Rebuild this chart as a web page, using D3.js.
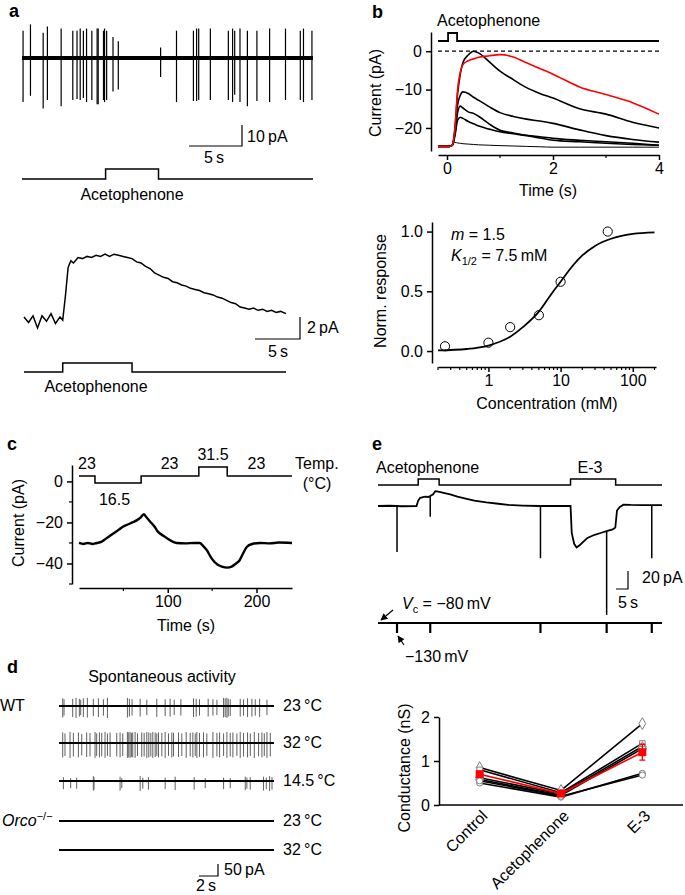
<!DOCTYPE html>
<html>
<head>
<meta charset="utf-8">
<script src="https://cdn.jsdelivr.net/npm/d3@7"></script>
<style>
  body { margin: 0; background: #fff; }
</style>
</head>
<body>
<svg id="fig" width="685" height="895"></svg>
<script>
// --------------------------------------------------------------------------------------
// data
// --------------------------------------------------------------------------------------
// panel a (top): spontaneous spikes [time (s), up (pA), down (pA)]
var aSpikes = [[0.1,13,-21],[0.8,16,-18],[2.0,12,-24],[2.4,15,-20],[3.7,14,-23],[4.8,13,-20],
  [5.2,13,-19.5],[5.5,14,-20],[5.8,13,-19],[6.1,14,-21],[6.6,13,-20],[7.1,14,-22],[7.2,14,-22],
  [7.7,13,-20],[7.8,14,-21],[8.0,13,-20],[8.6,10,-16],[9.1,8,-15],[13.1,5,-9],[14.6,13,-21],
  [16.2,13,-20.5],[16.5,14,-20.5],[16.7,14,-20],[17.8,14,-20],[19.5,13,-20],[19.9,14,-21],
  [20.1,13,-17.5],[20.6,14,-21],[21.3,13,-23],[22.2,13,-20.5],[23.4,14,-21],[24.9,14,-20],
  [26.3,13,-20],[26.6,14,-21],[27.4,13,-20]];
var aDuration = 27.5;
var aStim = [[0,0],[7.9,1],[12.9,0],[27.5,0]];

// panel a (bottom): slow current [time (s), pA]
var aSlow = [[0,0.1],[0.5,-0.4],[1,0.2],[1.5,-0.9],[2,0.2],[2.5,-0.3],[3,0.4],[3.5,-0.5],[4,0.1],
  [4.3,-0.2],[4.6,2.0],[4.9,4.6],[5.2,5.2],[5.5,5.0],[6,5.5],[6.5,5.4],[7,5.6],[7.5,5.5],[8,5.7],
  [8.5,5.6],[9,5.8],[9.5,5.6],[10,5.8],[10.5,5.7],[11,5.6],[11.5,5.5],[12,5.4],[12.5,5.1],[13,5.0],
  [13.5,4.7],[14,4.5],[14.5,4.1],[15,3.9],[15.5,3.7],[16,3.6],[16.5,3.3],[17,3.2],[17.5,3.0],
  [18,2.9],[18.5,2.7],[19,2.6],[19.5,2.5],[20,2.3],[20.5,2.2],[21,2.1],[21.5,1.9],[22,1.8],
  [22.5,1.6],[23,1.4],[23.5,1.3],[24,1.0],[24.5,0.9],[25,0.8],[25.5,0.9],[26,0.7],[26.5,0.8],
  [27,0.6],[27.5,0.7],[28,0.5],[28.5,0.6],[29.1,0.4]];
var aSlowStim = [[0,0],[4.3,1],[12,0],[29.1,0]];

// panel b (top): dose responses
var bTime   = [-0.17, 0.05, 0.1, 0.15, 0.2, 0.25, 0.3, 0.4, 0.5, 0.6, 0.8, 1.0, 1.25, 1.5, 1.75, 2.0, 2.5, 3.0, 3.5, 4.0];
var bRed    = [-24.8,-24.8,-24.5,-20,-10,-5.5,-3.5,-2.5,-2,-1.6,-1.2,-0.9,-1.5,-3,-4.5,-6,-9.3,-11.3,-13.4,-16.4];
var bBlack1 = [-24.8,-24.8,-24.5,-20,-11,-6,-3,-1,0,-0.5,-2.8,-5.2,-7.4,-9.5,-11,-12.2,-15,-16.4,-18.5,-20];
var bBlack2 = [-24.8,-24.8,-24.5,-21,-14,-11.5,-10.6,-11,-12,-12.8,-14.5,-16,-17,-17.7,-18.2,-18.8,-20.5,-22,-23,-23.7];
var bBlack3 = [-24.8,-24.8,-24.5,-21.5,-16,-14.3,-14.8,-15.8,-16.2,-17,-19,-20.6,-21.3,-21.9,-22.3,-22.7,-23.2,-23.6,-24,-24.5];
var bBlack4 = [-24.8,-24.8,-24.5,-22,-18,-17.2,-17.5,-18.3,-18.9,-19.5,-20.3,-21,-21.5,-22,-22.6,-23.2,-23.6,-24,-24.3,-24.5];
var bBlack5 = [-24.8,-24.8,-24.2,-23.8,-23.9,-24,-24.1,-24.2,-24.3,-24.4,-24.5,-24.6,-24.7,-24.8,-24.9,-25,-25,-25,-25,-25];
var bStim = [[-0.17,0],[0.02,1],[0.19,0],[4,0]];

// panel b (bottom): concentration response
var bConc = [0.25, 1, 2, 5, 10, 45];
var bResp = [0.04, 0.07, 0.2, 0.3, 0.58, 1.0];
var bFitConc = [0.2, 0.5, 1, 2, 3, 5, 7.5, 10, 15, 20, 30, 50, 100, 200];
var bFitResp = [0.005, 0.017, 0.046, 0.12, 0.2, 0.33, 0.48, 0.58, 0.72, 0.8, 0.88, 0.94, 0.98, 0.993];

// panel c: temperature steps and current
var cTemp = [[0,23],[18,16.5],[70,23],[135,31.5],[167,23],[240,23]];
var cTempLabels = [[9,"23","above"],[40,"16.5","below"],[102,"23","above"],[151,"31.5","above"],[200,"23","above"]];
var cCurrent = [[0,-30],[5,-30.5],[10,-30],[15,-30.5],[20,-30],[25,-29.5],[30,-28],[35,-26.5],[40,-25],
  [45,-23.5],[50,-22],[55,-21],[60,-20],[65,-19],[69,-17.8],[73,-16],[76,-17.5],[80,-19.5],[85,-22],
  [88,-24],[95,-26.5],[100,-28],[106,-29.5],[110,-30],[120,-30.2],[130,-30],[136,-30],[140,-31.5],
  [144,-33.5],[148,-36.5],[151,-38.4],[156,-40.5],[161,-41.5],[167,-42],[172,-41.5],[177,-40],
  [181,-38.4],[185,-35],[189,-32],[195,-30.5],[204,-30],[215,-30.2],[225,-29.8],[240,-30]];

// panel d: spontaneous activity rows [time (s), up (pA), down (pA)]
var dWT23 = [[0.39,32,-48],[0.53,28,-40],[1.44,30,-46],[1.79,34,-50],[2.14,30,-44],[2.28,26,-38],
  [2.56,32,-46],[2.98,34,-48],[3.61,30,-42],[4.14,32,-46],[4.67,28,-40],[5.09,34,-50],[7.19,34,-48],
  [7.40,30,-44],[7.68,28,-40],[8.53,30,-44],[9.23,26,-38],[10.28,30,-46],[11.16,28,-42],[11.68,30,-44],
  [12.11,26,-38],[12.81,28,-40],[14.14,32,-46],[14.42,30,-44],[14.77,28,-40],[15.68,30,-44],
  [16.18,28,-40],[16.60,26,-38],[17.30,34,-48],[17.47,32,-46],[17.65,34,-50],[17.79,30,-44],
  [18.00,28,-42],[19.05,30,-44],[19.40,28,-40],[19.82,32,-46],[20.28,30,-44],[20.63,28,-40],
  [21.09,30,-46],[21.86,26,-38]];
var dWT32 = [[0.39,44,-60],[0.63,40,-54],[1.16,46,-62],[1.51,42,-56],[2.04,44,-60],[2.39,38,-52],
  [2.91,44,-58],[3.26,42,-56],[3.79,46,-62],[3.96,40,-54],[4.25,44,-60],[4.49,42,-56],[4.84,46,-62],
  [5.09,40,-54],[5.37,44,-58],[6.07,42,-56],[6.42,44,-60],[6.70,40,-54],[7.19,46,-62],[7.33,44,-60],
  [7.47,46,-62],[7.61,42,-58],[7.75,44,-60],[8.00,46,-62],[8.25,40,-54],[8.70,44,-58],[8.95,42,-56],
  [9.23,46,-62],[9.44,44,-60],[9.65,42,-56],[9.86,46,-62],[10.11,44,-58],[10.28,40,-54],[10.46,44,-60],
  [10.81,42,-56],[11.16,46,-62],[11.51,40,-54],[11.86,44,-60],[12.04,42,-56],[12.56,44,-58],
  [12.91,40,-54],[13.37,46,-62],[13.79,42,-56],[14.07,44,-60],[14.32,40,-54],[14.49,46,-62],
  [14.77,42,-58],[15.19,44,-60],[15.54,40,-54],[16.18,46,-62],[16.60,42,-56],[16.88,44,-60],
  [17.30,40,-54],[17.65,46,-62],[18.00,42,-56],[18.28,44,-60],[18.70,40,-54],[19.05,46,-62],
  [19.40,42,-56],[19.82,44,-60],[20.11,40,-54],[20.53,46,-62],[20.98,42,-56],[21.33,44,-60],
  [21.58,40,-54],[21.86,46,-62],[22.21,42,-56]];
var dWT14 = [[0.46,16,-34],[1.23,12,-30],[1.86,14,-32],[3.61,20,-40],[3.68,16,-36],[6.42,18,-40],
  [6.60,12,-30],[8.53,20,-42],[8.81,14,-32],[9.40,16,-36],[11.16,14,-34],[12.21,18,-38],[14.21,16,-36],
  [15.37,12,-30],[17.30,14,-34],[18.00,12,-30],[19.58,18,-38],[19.75,14,-32],[20.10,16,-36],
  [21.50,18,-40],[21.79,14,-34],[22.14,20,-42],[22.39,16,-36]];
var dOrco23 = [];
var dOrco32 = [];
var dTemps = ["23\u2009°C", "32\u2009°C", "14.5\u2009°C", "23\u2009°C", "32\u2009°C"];
var dDuration = 22.6;

// panel e: current trace [time (s), pA], spikes [time, from, to], stimulus
var eTrace = [[0,0],[5,0.3],[10,-0.3],[16,0],[16.7,6],[17.5,9],[19.6,10.5],[21,10],[22.9,13],
  [23.8,16.5],[25,16],[30,13],[33,10.5],[36,8.5],[40,6],[45,4],[50,2.5],[54,1.2],[60,0.5],[67,0],
  [80,0],[80.5,-30],[81.5,-42],[82.5,-46],[84,-43],[87,-35.5],[90,-32],[92.5,-30],[95,-28],
  [97.5,-26],[98.6,-24],[99.3,-5],[100.5,-1],[102,1.5],[105,1.2],[110,1],[118,1]];
var eSpikes = [[7.9,0,-51],[21.7,10,-12],[67.5,0,-58],[95,-28,-121],[113.75,0,-58]];
var eStim = [[0,0],[16.7,1],[25.4,0],[80,1],[98.75,0],[118,0]];
var eDuration = 118;

// panel e (bottom): conductance
var gCats = ["Control", "Acetophenone", "E-3"];
var gCells = [[0.85, 0.33, 1.85], [0.80, 0.28, 1.40], [0.62, 0.25, 1.33],
              [0.58, 0.22, 1.28], [0.50, 0.18, 0.72], [0.55, 0.20, 0.68]];
var gMean = [0.70, 0.26, 1.20];
var gErr  = [0.06, 0.03, 0.18];

// --------------------------------------------------------------------------------------
var FONT = '"Liberation Sans", Arial, Helvetica, sans-serif';
var svg = d3.select("#fig").attr("font-family", FONT).attr("font-size", 16);
svg.append("rect").attr("width", 685).attr("height", 895).attr("fill", "#fff");

function minus(d) { return d < 0 ? "\u2212" + Math.abs(d) : String(d); }

function text(x, y, s, anchor, size, bold) {
  return svg.append("text").attr("x", x).attr("y", y)
    .attr("text-anchor", anchor || "start")
    .attr("font-size", size || 16)
    .attr("font-weight", bold ? "bold" : null)
    .text(s);
}

function vtext(x, y, s) {
  return svg.append("text").attr("transform", "translate(" + x + "," + y + ") rotate(-90)")
    .attr("text-anchor", "middle").text(s);
}

function path(d, w, col) {
  return svg.append("path").attr("d", d).attr("fill", "none")
    .attr("stroke", col || "#000").attr("stroke-width", w || 1.5);
}

function scaleBar(cx, cy, dx, dy) {
  path("M" + (cx - dx) + "," + cy + "H" + cx + "V" + (cy - dy), 1.2);
}

function styleAxis(g) {
  g.attr("font-family", FONT).attr("font-size", 16);
  g.select(".domain").attr("stroke-width", 1.5);
  g.selectAll(".tick line").attr("stroke-width", 1.5);
  g.selectAll(".tick text").attr("fill", "#000");
  return g;
}

function minorTicks(g, vals, scale, horizontal) {
  vals.forEach(function(v) {
    var p = scale(v);
    g.append("line")
      .attr(horizontal ? "x1" : "y1", p).attr(horizontal ? "x2" : "y2", p)
      .attr(horizontal ? "y1" : "x1", 0).attr(horizontal ? "y2" : "x2", horizontal ? 3 : -3)
      .attr("stroke", "#000").attr("stroke-width", 1.2);
  });
}

// ======================================================================================
// panel a
// ======================================================================================
text(9, 17, "a", "start", 18, true);

var xA1 = d3.scaleLinear().domain([0, aDuration]).range([22, 313]);
var yA1 = d3.scaleLinear().domain([-10, 10]).range([79, 37]);
var yA1s = d3.scaleLinear().domain([0, 1]).range([179, 169]);

svg.append("g").selectAll("line").data(aSpikes).enter().append("line")
   .attr("x1", function(d) { return xA1(d[0]); })
   .attr("x2", function(d) { return xA1(d[0]); })
   .attr("y1", function(d) { return yA1(d[1]); })
   .attr("y2", function(d) { return yA1(d[2]); })
   .attr("stroke", "#000").attr("stroke-width", 1.2);
path("M" + xA1(0) + "," + yA1(0) + "H" + xA1(aDuration), 4);

scaleBar(242, 146, xA1(5) - xA1(0), yA1(0) - yA1(10));
text(247, 142, "10\u2009pA");
text(214, 163, "5\u2009s", "middle");

var stepA1 = d3.line().curve(d3.curveStepAfter)
  .x(function(d) { return xA1(d[0]); }).y(function(d) { return yA1s(d[1]); });
path(stepA1(aStim), 1.5);
text(xA1(10.4), 200, "Acetophenone", "middle");

// bottom trace
var xA2 = d3.scaleLinear().domain([0, 29.1]).range([24, 286]);
var yA2 = d3.scaleLinear().domain([0, 2]).range([318, 296]);
var yA2s = d3.scaleLinear().domain([0, 1]).range([372, 363]);
path(d3.line().x(function(d) { return xA2(d[0]); }).y(function(d) { return yA2(d[1]); })(aSlow), 1.5);
scaleBar(300, 339, xA2(5) - xA2(0), yA2(0) - yA2(2));
text(307, 333, "2\u2009pA");
text(278, 357, "5\u2009s", "middle");
path(d3.line().curve(d3.curveStepAfter)
  .x(function(d) { return xA2(d[0]); }).y(function(d) { return yA2s(d[1]); })(aSlowStim), 1.5);
text(96, 392, "Acetophenone", "middle");

// ======================================================================================
// panel b (top)
// ======================================================================================
text(372, 18, "b", "start", 18, true);

var xB = d3.scaleLinear().domain([-0.17, 4]).range([438, 659]);
var yB = d3.scaleLinear().domain([-26, 5]).range([151, 32]);
var yBs = d3.scaleLinear().domain([0, 1]).range([41, 33]);

var gbx = svg.append("g").attr("transform", "translate(0,155)")
  .call(d3.axisBottom(xB).tickValues([0, 2, 4]).tickFormat(d3.format("d"))
    .tickSize(5).tickSizeOuter(0).tickPadding(3));
styleAxis(gbx);
minorTicks(gbx, [1, 3], xB, true);
var gby = svg.append("g").attr("transform", "translate(431,0)")
  .call(d3.axisLeft(yB).tickValues([0, -10, -20]).tickFormat(minus).tickSize(5).tickSizeOuter(0).tickPadding(4));
styleAxis(gby);

path("M438," + yB(0) + "H659", 1.2).attr("stroke-dasharray", "4,3");
path(d3.line().curve(d3.curveStepAfter)
  .x(function(d) { return xB(d[0]); }).y(function(d) { return yBs(d[1]); })(bStim), 1.8);
text(437, 26, "Acetophenone");

var lineB = d3.line().curve(d3.curveMonotoneX)
  .x(function(d, i) { return xB(bTime[i]); }).y(function(d) { return yB(d); });
[bBlack5, bBlack4, bBlack3, bBlack2, bBlack1].forEach(function(s, i) {
  path(lineB(s), i === 0 ? 1 : 1.6);
});
path(lineB(bRed), 1.6, "#f00");

vtext(381, 93, "Current (pA)");
text(548, 196, "Time (s)", "middle");

// ======================================================================================
// panel b (bottom)
// ======================================================================================
var xC = d3.scaleLog().domain([0.2, 210]).range([438, 656]);
var yR = d3.scaleLinear().domain([-0.1, 1.08]).range([363, 222]);

var gcx = svg.append("g").attr("transform", "translate(0,367)")
  .call(d3.axisBottom(xC).tickValues([1, 10, 100]).tickFormat(d3.format("d"))
    .tickSize(5).tickSizeOuter(0).tickPadding(3));
styleAxis(gcx);
minorTicks(gcx, [0.2,0.3,0.4,0.5,0.6,0.7,0.8,0.9,2,3,4,5,6,7,8,9,20,30,40,50,60,70,80,90,200], xC, true);
var gcy = svg.append("g").attr("transform", "translate(432,0)")
  .call(d3.axisLeft(yR).tickValues([0, 0.5, 1]).tickFormat(d3.format(".1f"))
    .tickSize(5).tickSizeOuter(0).tickPadding(4));
styleAxis(gcy);

path(d3.line().curve(d3.curveMonotoneX)
  .x(function(d, i) { return xC(bFitConc[i]); }).y(function(d) { return yR(d); })(bFitResp), 1.8);
svg.append("g").selectAll("circle").data(bResp).enter().append("circle")
   .attr("cx", function(d, i) { return xC(bConc[i]); })
   .attr("cy", function(d) { return yR(d); })
   .attr("r", 4.6).attr("fill", "none").attr("stroke", "#000").attr("stroke-width", 1);

var tm = svg.append("text").attr("x", 451).attr("y", 240);
tm.append("tspan").attr("font-style", "italic").text("m");
tm.append("tspan").text(" = 1.5");
var tk = svg.append("text").attr("x", 451).attr("y", 261);
tk.append("tspan").attr("font-style", "italic").text("K");
tk.append("tspan").attr("font-size", 11).attr("dy", 4).text("1/2");
tk.append("tspan").attr("dy", -4).text(" = 7.5\u2009mM");

vtext(386, 291, "Norm. response");
text(547, 409, "Concentration (mM)", "middle");

// ======================================================================================
// panel c
// ======================================================================================
text(7, 450, "c", "start", 18, true);

var xT = d3.scaleLinear().domain([0, 240]).range([79, 292]);
var yT = d3.scaleLinear().domain([-50, 8]).range([584, 465]);
var yTemp = d3.scaleLinear().domain([16.5, 31.5]).range([483, 467]);

var gtx = svg.append("g").attr("transform", "translate(0,588)")
  .call(d3.axisBottom(xT).tickValues([100, 200]).tickSize(5).tickSizeOuter(0).tickPadding(3));
styleAxis(gtx);
minorTicks(gtx, [50, 150], xT, true);
var gty = svg.append("g").attr("transform", "translate(72,0)")
  .call(d3.axisLeft(yT).tickValues([0, -20, -40]).tickFormat(minus).tickSize(5).tickSizeOuter(0).tickPadding(4));
styleAxis(gty);
minorTicks(gty, [-10, -30, -50], yT, false);

path(d3.line().curve(d3.curveStepAfter)
  .x(function(d) { return xT(d[0]); }).y(function(d) { return yTemp(d[1]); })(cTemp), 1.5);
cTempLabels.forEach(function(l) {
  var y = l[2] === "above" ? (l[1] === "31.5" ? 460 : 469) : 505;
  text(xT(l[0]), y, l[1], "middle");
});
text(295, 469, "Temp.");
text(317, 489, "(°C)", "middle");

path(d3.line().curve(d3.curveMonotoneX)
  .x(function(d) { return xT(d[0]); }).y(function(d) { return yT(d[1]); })(cCurrent), 2.4);

vtext(24, 523, "Current (pA)");
text(186, 631, "Time (s)", "middle");

// ======================================================================================
// panel d
// ======================================================================================
text(7, 673, "d", "start", 18, true);
text(162, 682, "Spontaneous activity", "middle");

var xD = d3.scaleLinear().domain([0, dDuration]).range([59, 274]);
var yD = d3.scaleLinear().domain([0, 50]).range([0, -12]);
var dRows = [dWT23, dWT32, dWT14, dOrco23, dOrco32];
var dBase = [706, 743, 781, 821, 850];

dRows.forEach(function(spikes, r) {
  var g = svg.append("g").attr("transform", "translate(0," + dBase[r] + ")");
  g.selectAll("line").data(spikes).enter().append("line")
   .attr("x1", function(d) { return xD(d[0]); })
   .attr("x2", function(d) { return xD(d[0]); })
   .attr("y1", function(d) { return yD(d[1]); })
   .attr("y2", function(d) { return yD(d[2]); })
   .attr("stroke", "#606060").attr("stroke-width", 1);
  g.append("line").attr("x1", xD(0)).attr("x2", xD(dDuration)).attr("y1", 0).attr("y2", 0)
   .attr("stroke", "#000").attr("stroke-width", 2);
  text(283, dBase[r] + 5, dTemps[r]);
});
text(0, 711, "WT");
var to = svg.append("text").attr("x", 2).attr("y", 826);
to.append("tspan").attr("font-style", "italic").text("Orco");
to.append("tspan").attr("font-size", 11).attr("dy", -6).text("\u2212/\u2212");

scaleBar(218, 876, xD(2) - xD(0), yD(0) - yD(50));
text(224, 875, "50\u2009pA");
text(206, 891, "2\u2009s", "middle");

// ======================================================================================
// panel e (top)
// ======================================================================================
text(372, 450, "e", "start", 18, true);

var xE = d3.scaleLinear().domain([0, eDuration]).range([378, 662]);
var yE = d3.scaleLinear().domain([0, 20]).range([506, 488]);
var yEs = d3.scaleLinear().domain([0, 1]).range([485, 479]);
var yV = d3.scaleLinear().domain([-80, -130]).range([623, 633]);

text(376, 473, "Acetophenone");
text(590, 473, "E-3", "middle");
path(d3.line().curve(d3.curveStepAfter)
  .x(function(d) { return xE(d[0]); }).y(function(d) { return yEs(d[1]); })(eStim), 1.5);

path(d3.line().x(function(d) { return xE(d[0]); }).y(function(d) { return yE(d[1]); })(eTrace), 1.8);
svg.append("g").selectAll("line").data(eSpikes).enter().append("line")
   .attr("x1", function(d) { return xE(d[0]); })
   .attr("x2", function(d) { return xE(d[0]); })
   .attr("y1", function(d) { return yE(d[1]); })
   .attr("y2", function(d) { return yE(d[2]); })
   .attr("stroke", "#000").attr("stroke-width", 1.5);

scaleBar(628, 589, xE(5) - xE(0), yE(0) - yE(20));
text(642, 583, "20\u2009pA");
text(628, 608, "5\u2009s", "middle");

// voltage protocol
path("M" + xE(0) + "," + yV(-80) + "H" + xE(eDuration), 1.8);
svg.append("g").selectAll("line").data(eSpikes).enter().append("line")
   .attr("x1", function(d) { return xE(d[0]); })
   .attr("x2", function(d) { return xE(d[0]); })
   .attr("y1", yV(-80)).attr("y2", yV(-130))
   .attr("stroke", "#000").attr("stroke-width", 2.2);

var defs = svg.append("defs");
defs.append("marker").attr("id", "arr").attr("viewBox", "0 0 10 10")
  .attr("refX", 9).attr("refY", 5).attr("markerWidth", 7).attr("markerHeight", 7)
  .attr("markerUnits", "userSpaceOnUse").attr("orient", "auto")
  .append("path").attr("d", "M0,0L10,5L0,10z").attr("fill", "#000");
path("M393,610L381,620", 1.2).attr("marker-end", "url(#arr)");
path("M404,645L398,636", 1.2).attr("marker-end", "url(#arr)");

var tv = svg.append("text").attr("x", 402).attr("y", 609);
tv.append("tspan").attr("font-style", "italic").text("V");
tv.append("tspan").attr("font-size", 11).attr("dy", 4).text("c");
tv.append("tspan").attr("dy", -4).text(" = \u221280\u2009mV");
text(405, 662, "\u2212130\u2009mV");

// ======================================================================================
// panel e (bottom)
// ======================================================================================
var xG = d3.scalePoint().domain(gCats).range([439, 683]).padding(0.5);
var yG = d3.scaleLinear().domain([0, 2]).range([805, 717]);

var ggy = svg.append("g").attr("transform", "translate(439,0)")
  .call(d3.axisLeft(yG).tickValues([0, 1, 2]).tickFormat(d3.format("d"))
    .tickSize(5).tickSizeOuter(0).tickPadding(4));
styleAxis(ggy);
path("M439,805H683", 1.5);

gCats.forEach(function(c) {
  svg.append("text").attr("transform", "translate(" + (xG(c) + 5) + ",813) rotate(-45)")
     .attr("text-anchor", "end").attr("dy", "0.35em").text(c);
});

var lineG = d3.line().x(function(d, i) { return xG(gCats[i]); }).y(function(d) { return yG(d); });
gCells.forEach(function(c) { path(lineG(c), 1.6); });

var symbols = [d3.symbolDiamond, d3.symbolSquare, d3.symbolTriangle, d3.symbolTriangle, d3.symbolCircle, d3.symbolCircle];
gCells.forEach(function(c, k) {
  svg.append("g").selectAll("path").data(c).enter().append("path")
     .attr("transform", function(d, i) {
       return "translate(" + xG(gCats[i]) + "," + yG(d) + ")" + (k === 3 ? " rotate(180)" : "");
     })
     .attr("d", d3.symbol().type(symbols[k]).size(k === 0 ? 40 : 30))
     .attr("fill", "#fff").attr("stroke", "#808080").attr("stroke-width", 1);
});

path(lineG(gMean), 1.6, "#f00");
gMean.forEach(function(m, i) {
  var x = xG(gCats[i]);
  path("M" + x + "," + yG(m - gErr[i]) + "V" + yG(m + gErr[i]) +
       "M" + (x - 3) + "," + yG(m - gErr[i]) + "H" + (x + 3) +
       "M" + (x - 3) + "," + yG(m + gErr[i]) + "H" + (x + 3), 1.4, "#f00");
});
svg.append("g").selectAll("rect").data(gMean).enter().append("rect")
   .attr("x", function(d, i) { return xG(gCats[i]) - 4; })
   .attr("y", function(d) { return yG(d) - 4; })
   .attr("width", 8).attr("height", 8).attr("fill", "#f00");

vtext(410, 768, "Conductance (nS)");
</script>
</body>
</html>
